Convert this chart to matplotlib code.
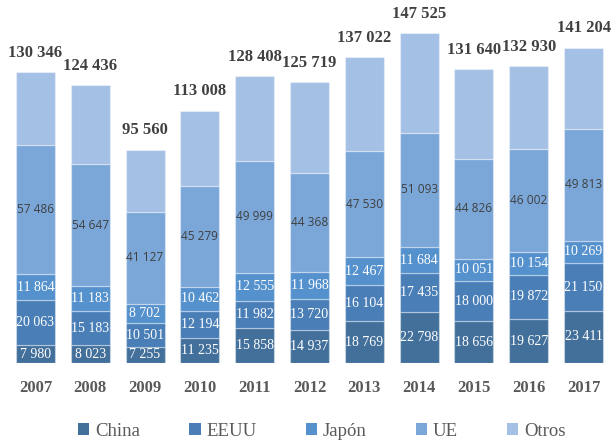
import matplotlib
matplotlib.use("Agg")
import matplotlib.pyplot as plt
import numpy as np
from matplotlib.patches import Patch

years = ["2007", "2008", "2009", "2010", "2011", "2012", "2013", "2014", "2015", "2016", "2017"]
series_names = ["China", "EEUU", "Japón", "UE", "Otros"]
china = [7980, 8023, 7255, 11235, 15858, 14937, 18769, 22798, 18656, 19627, 23411]
eeuu = [20063, 15183, 10501, 12194, 11982, 13720, 16104, 17435, 18000, 19872, 21150]
japon = [11864, 11183, 8702, 10462, 12555, 11968, 12467, 11684, 10051, 10154, 10269]
ue = [57486, 54647, 41127, 45279, 49999, 44368, 47530, 51093, 44826, 46002, 49813]
totals = [130346, 124436, 95560, 113008, 128408, 125719, 137022, 147525, 131640, 132930, 141204]
otros = [t - c - e - j - u for t, c, e, j, u in zip(totals, china, eeuu, japon, ue)]

colors = ["#43709B", "#4A7EB6", "#5591CC", "#7AA7D8", "#A4C0E4"]

def fmt(v):
    return f"{v:,}".replace(",", " ")

fig = plt.figure(figsize=(6.13, 4.41), dpi=100)
ax = fig.add_axes([8 / 613, 78 / 441, 603 / 613, 363 / 441])
x = np.arange(len(years))
width = 0.71
bottom = np.zeros(len(years))
data = [china, eeuu, japon, ue, otros]
serif = ["Liberation Serif", "DejaVu Serif"]
for i, (vals, col) in enumerate(zip(data, colors)):
    vals = np.array(vals, dtype=float)
    ax.bar(x, vals, width, bottom=bottom, color=col,
           edgecolor=(1, 1, 1, 0.35), linewidth=0.9, zorder=2)
    if i < 4:
        for xi, b, v in zip(x, bottom, vals):
            if i == 3:
                ax.text(xi, b + v / 2, fmt(int(v)), ha="center", va="center",
                        fontsize=8.6, color="#404040", family=["Open Sans", "DejaVu Sans"])
            else:
                ax.text(xi, b + v / 2, fmt(int(v)), ha="center", va="center",
                        fontsize=10, color="white", family=serif)
    bottom += vals

for xi, t in zip(x, totals):
    ax.annotate(fmt(t), (xi, t), xytext=(0, 8), textcoords="offset points",
                ha="center", va="bottom", fontsize=12, fontweight="bold",
                color="#404040", family=serif)

ax.set_xlim(-0.5, len(years) - 0.5)
ax.set_ylim(0, 162500)
ax.set_xticks(x)
ax.set_xticklabels(years, fontsize=12, fontweight="bold", color="#595959", family=serif)
ax.tick_params(axis="x", length=0, pad=12)
ax.set_yticks([])
for s in ax.spines.values():
    s.set_visible(False)

handles = [Patch(facecolor=c, edgecolor="none") for c in colors]
fig.legend(handles, series_names, loc="center", bbox_to_anchor=(0.525, 1 - 431 / 441),
           ncol=5, frameon=False, handlelength=0.6, handleheight=0.6,
           handletextpad=0.3, columnspacing=2.63,
           prop={"family": serif, "size": 13.5}, labelcolor="#595959")

fig.savefig("out.png", dpi=100)
